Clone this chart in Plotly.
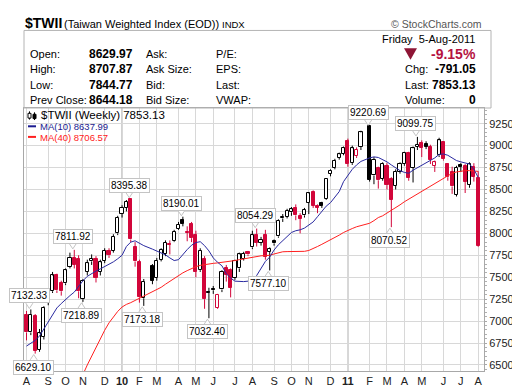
import pandas as pd
import plotly.graph_objects as go

# ---------------- data ----------------
closed_weeks = ["2010-02-19", "2011-02-04"]
fridays = pd.date_range("2009-08-07", "2011-08-05", freq="7D")
dates = [d.strftime("%Y-%m-%d") for d in fridays if d.strftime("%Y-%m-%d") not in closed_weeks]

opens = [7070, 6870, 7060, 6670, 6820, 7210, 7340, 7520, 7430, 7430,
         7620, 7720, 7710, 7250, 7560, 7680, 7705, 7560, 7690, 7800,
         7800, 8000, 8220, 8290, 8390, 7850, 7670, 7260, 7630, 7490,
         7700, 7770, 7880, 7910, 8055, 8150, 8015, 8110, 7980, 7580,
         7707, 7330, 7360, 7150, 7360, 7600, 7580, 7490, 7600, 7710,
         7790, 7840, 7980, 7890, 7980, 7790, 7910, 7965, 8170, 8190,
         8240, 8286, 8200, 8205, 8350, 8470, 8310, 8345, 8390, 8680,
         8750, 8860, 8910, 9050, 8800, 8880, 8990, 9220, 8660, 8750,
         8625, 8770, 8620, 8540, 8700, 8790, 8915, 8750, 8990, 9025,
         9020, 8990, 8770, 8890, 9040, 8790, 8700, 8440, 8780, 8770,
         8550, 8760, 8629.97]
highs = [7115, 7132.33, 7080, 6910, 7170, 7350, 7560, 7540, 7460, 7600,
         7780, 7811.92, 7750, 7480, 7700, 7760, 7740, 7700, 7830, 7830,
         7990, 8200, 8320, 8380, 8395.38, 7900, 7700, 7480, 7650, 7720,
         7830, 7920, 7920, 8040, 8130, 8190.01, 8080, 8130, 8030, 7830,
         7740, 7380, 7400, 7310, 7580, 7640, 7600, 7700, 7780, 7790,
         7800, 8030, 8054.29, 7960, 8040, 7840, 7930, 8160, 8220, 8280,
         8300, 8330, 8230, 8290, 8470, 8490, 8330, 8360, 8630, 8730,
         8850, 8920, 8990, 9080, 9000, 8980, 9170, 9220.69, 8870, 8760,
         8810, 8800, 8640, 8730, 8810, 8930, 8930, 8990, 9099.75, 9060,
         9050, 9010, 8830, 9090, 9050, 8800, 8760, 8770, 8800, 8790,
         8810, 8800, 8707.87]
lows = [6780, 6840, 6629.10, 6650, 6790, 7180, 7320, 7320, 7290, 7410,
        7600, 7600, 7260, 7218.89, 7520, 7640, 7440, 7520, 7660, 7720,
        7780, 7980, 8180, 8250, 7900, 7620, 7210, 7173.18, 7420, 7460,
        7680, 7740, 7760, 7900, 8040, 8080, 7910, 7900, 7500, 7560,
        7140, 7032.40, 7310, 7140, 7330, 7450, 7270, 7470, 7560, 7690,
        7740, 7820, 7850, 7860, 7700, 7577.10, 7860, 7950, 8130, 8170,
        8200, 8150, 8000, 8180, 8220, 8290, 8230, 8290, 8380, 8650,
        8730, 8840, 8890, 8760, 8780, 8860, 8950, 8590, 8560, 8510,
        8600, 8500, 8070.52, 8500, 8680, 8770, 8600, 8580, 8950, 8870,
        8960, 8790, 8700, 8870, 8830, 8600, 8450, 8420, 8700, 8460,
        8520, 8590, 7844.77]
closes = [6870, 7070, 6660, 6860, 7150, 7330, 7520, 7350, 7340, 7580,
          7720, 7640, 7340, 7460, 7660, 7710, 7490, 7670, 7800, 7750,
          7960, 8180, 8290, 8360, 7930, 7680, 7270, 7450, 7460, 7690,
          7810, 7890, 7870, 8020, 8100, 8110, 8005, 7945, 7560, 7800,
          7250, 7320, 7350, 7300, 7560, 7530, 7380, 7690, 7760, 7770,
          7760, 7980, 7890, 7925, 7730, 7820, 7885, 8145, 8185, 8255,
          8275, 8205, 8165, 8270, 8455, 8315, 8290, 8312, 8620, 8715,
          8825, 8900, 8972, 8790, 8970, 8950, 9150, 8610, 8840, 8605,
          8790, 8550, 8385, 8700, 8790, 8915, 8630, 8970, 9010, 8975,
          8990, 8840, 8810, 9060, 8845, 8640, 8535, 8750, 8760, 8590,
          8790, 8644.18, 7853.13]
ma10 = [6715, 6745, 6780, 6830, 6910, 6990, 7080, 7150, 7200, 7250,
        7290, 7330, 7400, 7460, 7510, 7545, 7570, 7595, 7620, 7645,
        7675, 7710, 7750, 7850, 7900, 7915, 7890, 7860, 7820, 7800,
        7780, 7755, 7720, 7690, 7700, 7760, 7815, 7865, 7895, 7905,
        7860, 7800, 7720, 7670, 7630, 7540, 7490, 7455, 7450, 7450,
        7455, 7465, 7520, 7600, 7680, 7730, 7810, 7870, 7920, 7960,
        8010, 8030, 8040, 8060, 8090, 8130, 8190, 8250, 8310, 8350,
        8410, 8476, 8590, 8655, 8730, 8780, 8820, 8860, 8872, 8865,
        8840, 8815, 8780, 8745, 8715, 8695, 8685, 8720, 8750, 8770,
        8800, 8830, 8860, 8900, 8905, 8890, 8860, 8830, 8815, 8805,
        8790, 8730, 8637.99]
ma40 = [None, None, None, None, None, None, None, None, None, None,
        None, 6180, 6280, 6390, 6500, 6600, 6700, 6800, 6895, 6980,
        7050, 7110, 7160, 7190, 7210, 7235, 7255, 7280, 7330, 7355,
        7385, 7420, 7455, 7490, 7520, 7550, 7575, 7600, 7620, 7635,
        7645, 7652, 7658, 7663, 7668, 7672, 7680, 7690, 7700, 7710,
        7720, 7730, 7737, 7744, 7746, 7750, 7765, 7780, 7790, 7792,
        7793, 7793, 7793, 7795, 7805, 7825, 7850, 7875, 7900, 7925,
        7950, 7980, 8010, 8035, 8055, 8075, 8090, 8115, 8145, 8180,
        8200, 8230, 8257, 8290, 8325, 8360, 8390, 8420, 8450, 8480,
        8505, 8540, 8570, 8600, 8635, 8660, 8685, 8700, 8710, 8715,
        8715, 8712, 8706.57]
close_before_first = 7078.0
ref_close_override = {"2011-02-11": 8600.0}

y_ticks = list(range(6500, 9251, 250))
month_tick_dates = ["2009-08-07", "2009-09-11", "2009-10-09", "2009-11-06", "2009-12-11",
                    "2010-01-08", "2010-02-05", "2010-03-05", "2010-04-09", "2010-05-07",
                    "2010-06-04", "2010-07-09", "2010-08-06", "2010-09-10", "2010-10-08",
                    "2010-11-05", "2010-12-10", "2011-01-07", "2011-02-11", "2011-03-11",
                    "2011-04-08", "2011-05-06", "2011-06-10", "2011-07-08", "2011-08-05"]
month_tick_text = ["A", "S", "O", "N", "D", "<b>10</b>", "F", "M", "A", "M", "J", "J", "A",
                   "S", "O", "N", "D", "<b>11</b>", "F", "M", "A", "M", "J", "J", "A"]
year_dates = ["2010-01-08", "2011-01-07"]

peak_dates = ["2009-08-14", "2009-08-21", "2009-10-23", "2009-11-06", "2010-01-22",
              "2010-02-12", "2010-04-16", "2010-05-28", "2010-08-13", "2010-09-03",
              "2011-02-11", "2011-03-18", "2011-04-29"]
peak_values = [7132.33, 6629.10, 7811.92, 7218.89, 8395.38, 7173.18, 8190.01,
               7032.40, 8054.29, 7577.10, 9220.69, 8070.52, 9099.75]
peak_kinds = ["high", "low", "high", "low", "high", "low", "high", "low", "high", "low",
              "high", "low", "high"]

quote_labels = ["Open:", "High:", "Low:", "Prev Close:"]
quote_values = ["8629.97", "8707.87", "7844.77", "8644.18"]
quote_labels2 = ["Ask:", "Ask Size:", "Bid:", "Bid Size:"]
quote_labels3 = ["P/E:", "EPS:", "Last:", "VWAP:"]
right_labels = ["Chg:", "Last:", "Volume:"]
right_values = ["-791.05", "7853.13", "0"]

# ---------------- styling helpers ----------------
W, H = 520, 391
PL, PR, PT, PB = 16, 476, 100, 373
RED = "#D2063A"
BLACK = "#000000"
FONT = "Liberation Sans, Arial, sans-serif"
DAY_PX = 4.344 / 7
X0_PX = 18.5


def xp(px):
    return (px - PL) / (PR - PL)


def yp(py):
    return (PB - py) / (PB - PT)


# colours from close vs previous close, hollow vs filled from close vs open
prev = [close_before_first] + closes[:-1]
for d, v in ref_close_override.items():
    prev[dates.index(d)] = v
edge, fill, base, height = [], [], [], []
for o, c, p in zip(opens, closes, prev):
    col = BLACK if c >= p else RED
    edge.append(col)
    fill.append("white" if c > o else col)
    base.append(min(o, c))
    height.append(max(abs(c - o), 8))

wick = {BLACK: ([], []), RED: ([], [])}
for d, o, h, l, c, col in zip(dates, opens, highs, lows, closes, edge):
    xs, ys = wick[col]
    top, bot = max(o, c), min(o, c)
    xs += [d, d, None, d, d, None]
    ys += [h, top, None, bot, l, None]

fig = go.Figure()
for col, (xs, ys) in wick.items():
    fig.add_trace(go.Scatter(x=xs, y=ys, mode="lines", line=dict(color=col, width=1),
                             hoverinfo="skip", showlegend=False))
week_ms = 7 * 24 * 3600 * 1000
fig.add_trace(go.Bar(x=dates, y=height, base=base, width=0.72 * week_ms,
                     marker=dict(color=fill, line=dict(color=edge, width=1)),
                     showlegend=False))
fig.add_trace(go.Scatter(x=dates, y=ma40, mode="lines", line=dict(color="#FF2020", width=1),
                         showlegend=False, connectgaps=False))
fig.add_trace(go.Scatter(x=dates, y=ma10, mode="lines", line=dict(color="#2A2AA0", width=1),
                         showlegend=False))

t0 = pd.Timestamp(dates[0])
t1 = pd.Timestamp(dates[-1])
x_left = t0 - pd.Timedelta(days=(X0_PX - PL) / DAY_PX)
x_right = t1 + pd.Timedelta(days=(PR - 470.2) / DAY_PX)

PPU = 250.4 / 2750
y_top = 9250 + (116.3 - PT) / PPU
y_bot = 6500 - (PB - 366.7) / PPU

shapes = []
for yd in year_dates:
    shapes.append(dict(type="line", xref="x", yref="paper", x0=yd, x1=yd, y0=0, y1=1,
                       line=dict(color="#9a9a9a", width=1), layer="below"))
# header box
shapes.append(dict(type="rect", xref="paper", yref="paper", x0=xp(16), x1=xp(483),
                   y0=yp(100), y1=yp(19.5), line=dict(color="#b4b4b4", width=1)))
# down triangle
shapes.append(dict(type="path", xref="paper", yref="paper",
                   path=f"M {xp(396)} {yp(38)} L {xp(409)} {yp(38)} L {xp(402.5)} {yp(50)} Z",
                   fillcolor="#8E1535", line=dict(color="#8E1535", width=0)))
# legend dashes
shapes.append(dict(type="line", xref="paper", yref="paper", x0=xp(20), x1=xp(28),
                   y0=yp(119), y1=yp(119), line=dict(color="#1A1A90", width=2)))
shapes.append(dict(type="line", xref="paper", yref="paper", x0=xp(20), x1=xp(28),
                   y0=yp(130), y1=yp(130), line=dict(color="#FF2020", width=2)))
# legend candle icon
shapes.append(dict(type="line", xref="paper", yref="paper", x0=xp(21.5), x1=xp(21.5),
                   y0=yp(112), y1=yp(103.5), line=dict(color="black", width=1)))
shapes.append(dict(type="rect", xref="paper", yref="paper", x0=xp(20), x1=xp(23),
                   y0=yp(110.5), y1=yp(105.5), line=dict(color="black", width=1), fillcolor="white"))
shapes.append(dict(type="line", xref="paper", yref="paper", x0=xp(26.5), x1=xp(26.5),
                   y0=yp(112.5), y1=yp(104.5), line=dict(color="black", width=1)))
shapes.append(dict(type="rect", xref="paper", yref="paper", x0=xp(25), x1=xp(28),
                   y0=yp(111), y1=yp(106.5), line=dict(color="black", width=1), fillcolor="black"))

ann = []


def text(px, py, s, size=11, color="black", anchor="left", bold=False, family=FONT):
    if bold:
        s = f"<b>{s}</b>"
    ann.append(dict(xref="paper", yref="paper", x=xp(px), y=yp(py), text=s, showarrow=False,
                    xanchor=anchor, yanchor="middle",
                    font=dict(size=size, color=color, family=family)))


text(15, 12, "$TWII", size=14, bold=True)
text(54, 12.5, "(Taiwan Weighted Index (EOD))", size=11)
text(212, 13, "INDX", size=9.5)
text(476, 12.5, "© StockCharts.com", size=10.5, color="#555555", anchor="right")
rows = [44, 60, 76, 92]
for i, r in enumerate(rows):
    text(20, r, quote_labels[i], size=11)
    text(127, r, quote_values[i], size=12, bold=True, anchor="right")
    text(136, r, quote_labels2[i], size=11)
    text(206, r, quote_labels3[i], size=11)
text(469, 28, "Friday&nbsp;&nbsp;5-Aug-2011", size=11, anchor="right")
text(470, 44, "-9.15%", size=14, color="#B5123F", bold=True, anchor="right")
for i, r in enumerate(rows[1:]):
    text(395, r, right_labels[i], size=11)
    text(470, r, right_values[i], size=12, bold=True, anchor="right")

text(31, 107.5, "$TWII (Weekly) 7853.13", size=11.5)
text(29.5, 119.5, "MA(10) 8637.99", size=9.5, color="#1A1A90")
text(29.5, 130.5, "MA(40) 8706.57", size=9.5, color="#FF2020")

GAP = 6
for d, v, k in zip(peak_dates, peak_values, peak_kinds):
    hi = k == "high"
    ann.append(dict(x=d, y=v, xref="x", yref="y", text=f"{v:.2f}", showarrow=False,
                    yanchor="bottom" if hi else "top", height=11,
                    yshift=GAP if hi else -GAP, xshift=-1.5,
                    bgcolor="white", bordercolor="#c4c4c4", borderwidth=1, borderpad=1,
                    font=dict(size=10, color="black", family=FONT)))
    cx = X0_PX + (pd.Timestamp(d) - t0).days * DAY_PX - 1.5
    sgn = 1 if hi else -1
    y_edge = v + sgn * (GAP + 0.5) / PPU
    y_tip = v + sgn * 1.0 / PPU
    shapes.append(dict(type="path", xref="paper", yref="y",
                       path=f"M {xp(cx - 3.5)} {y_edge} L {xp(cx)} {y_tip} L {xp(cx + 3.5)} {y_edge}",
                       fillcolor="white", line=dict(color="#c4c4c4", width=1), layer="above"))

fig.update_layout(
    width=W, height=H, margin=dict(l=PL, r=W - PR, t=PT, b=H - PB),
    paper_bgcolor="white", plot_bgcolor="white", showlegend=False,
    bargap=0, shapes=shapes, annotations=ann,
    xaxis=dict(type="date", range=[x_left, x_right], tickvals=month_tick_dates,
               ticktext=month_tick_text, showgrid=True, gridcolor="#d8d8d8", gridwidth=1,
               showline=True, mirror=True, linecolor="#a8a8a8", ticks="", zeroline=False,
               tickfont=dict(size=11, color="#222222", family=FONT), rangeslider=dict(visible=False)),
    yaxis=dict(side="right", range=[y_bot, y_top], tickvals=y_ticks,
               ticktext=[str(t) for t in y_ticks], showgrid=True, gridcolor="#d8d8d8",
               gridwidth=1, showline=True, mirror=True, linecolor="#a8a8a8", zeroline=False,
               ticks="outside", ticklen=2, tickcolor="#a8a8a8",
               minor=dict(dtick=50, ticks="outside", ticklen=2, tickcolor="#b0b0b0", showgrid=False),
               tickfont=dict(size=11, color="#222222", family=FONT)),
)

fig.write_html("out.html")
